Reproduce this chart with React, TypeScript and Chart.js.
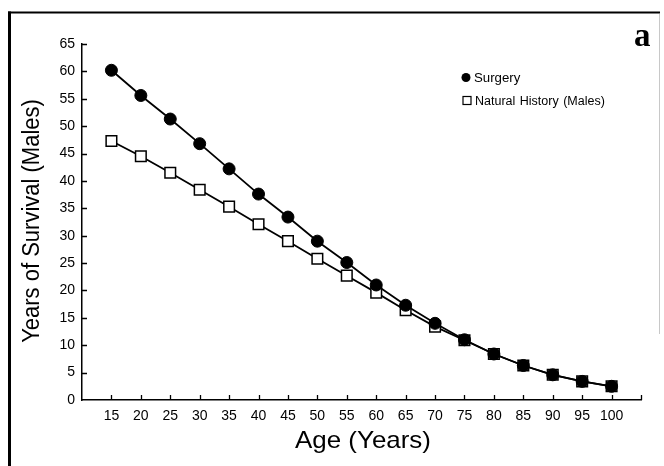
import React, { useEffect, useRef } from 'react';
import { Chart, registerables } from 'chart.js';

Chart.register(...registerables);

const ages = [15, 20, 25, 30, 35, 40, 45, 50, 55, 60, 65, 70, 75, 80, 85, 90, 95, 100];
const surgeryYears = [60.2, 55.6, 51.3, 46.8, 42.2, 37.6, 33.4, 29.0, 25.1, 21.0, 17.3, 14.0, 11.0, 8.4, 6.3, 4.6, 3.4, 2.5];
const naturalHistoryYears = [47.3, 44.5, 41.5, 38.4, 35.3, 32.1, 29.0, 25.8, 22.7, 19.6, 16.4, 13.4, 10.9, 8.4, 6.3, 4.6, 3.4, 2.5];
const xTickLabels = [15, 20, 25, 30, 35, 40, 45, 50, 55, 60, 65, 70, 75, 80, 85, 90, 95, 100];
const yTickLabels = [0, 5, 10, 15, 20, 25, 30, 35, 40, 45, 50, 55, 60, 65];
const seriesNames = ['Surgery', 'Natural History (Males)'];
const xTitle = 'Age (Years)';
const yTitle = 'Years of Survival (Males)';
const panelLabel = 'a';

function drawText(
  ctx: CanvasRenderingContext2D,
  text: string,
  x: number,
  y: number,
  font: string,
  opts: { sx?: number; rot?: number; align?: CanvasTextAlign; baseline?: CanvasTextBaseline; wordSpacing?: string } = {}
) {
  ctx.save();
  ctx.translate(x, y);
  ctx.scale(opts.sx ?? 1, 1);
  if (opts.rot) ctx.rotate(opts.rot);
  ctx.font = font;
  ctx.fillStyle = '#000';
  ctx.textAlign = opts.align ?? 'left';
  ctx.textBaseline = opts.baseline ?? 'alphabetic';
  if (opts.wordSpacing) (ctx as any).wordSpacing = opts.wordSpacing;
  ctx.fillText(text, 0, 0);
  ctx.restore();
}

const decorPlugin = {
  id: 'decor',
  beforeDraw(chart: any) {
    const ctx: CanvasRenderingContext2D = chart.ctx;
    ctx.save();
    ctx.fillStyle = '#fff';
    ctx.fillRect(0, 0, chart.width, chart.height);
    // frame
    ctx.fillStyle = '#000';
    ctx.fillRect(8, 11.5, 652, 2);
    ctx.fillRect(8, 11.5, 3, 466);
    ctx.fillStyle = '#c8c8c8';
    ctx.fillRect(659, 14, 1, 320);
    ctx.restore();
  },
  afterDraw(chart: any) {
    const ctx: CanvasRenderingContext2D = chart.ctx;
    const xs = chart.scales.x;
    const ys = chart.scales.y;
    const area = chart.chartArea;
    ctx.save();
    ctx.strokeStyle = '#000';
    ctx.lineWidth = 1.3;
    ctx.beginPath();
    [...xTickLabels, 105].forEach((v) => {
      const px = Math.round(xs.getPixelForValue(v)) + 0.5;
      ctx.moveTo(px, area.bottom);
      ctx.lineTo(px, area.bottom - 5);
    });
    yTickLabels.forEach((v) => {
      if (v === 0) return;
      const py = Math.round(ys.getPixelForValue(v)) + 0.5;
      ctx.moveTo(area.left, py);
      ctx.lineTo(area.left + 5, py);
    });
    ctx.stroke();
    ctx.restore();

    // axis titles
    drawText(ctx, xTitle, 363, 447.5, '24px "Liberation Sans", Arial, sans-serif', { sx: 1.08, align: 'center' });
    drawText(ctx, yTitle, 39, 221, '22px "Liberation Sans", Arial, sans-serif', { sx: 1.1, rot: -Math.PI / 2, align: 'center' });

    // panel label
    drawText(ctx, panelLabel, 634, 46, 'bold 33px "Liberation Serif", "Times New Roman", serif', {});

    // legend
    ctx.save();
    ctx.fillStyle = '#000';
    ctx.beginPath();
    ctx.arc(466, 77.5, 4.5, 0, Math.PI * 2);
    ctx.fill();
    ctx.strokeStyle = '#000';
    ctx.lineWidth = 1.2;
    ctx.fillStyle = '#fff';
    ctx.fillRect(463, 96.5, 8, 8);
    ctx.strokeRect(463, 96.5, 8, 8);
    ctx.restore();
    drawText(ctx, seriesNames[0], 474, 82, '12.5px "Liberation Sans", Arial, sans-serif', { sx: 1.06 });
    drawText(ctx, seriesNames[1], 475, 105, '12.5px "Liberation Sans", Arial, sans-serif', { sx: 1.0, wordSpacing: '1px' });
  },
};

export default function App() {
  const ref = useRef<HTMLCanvasElement | null>(null);
  useEffect(() => {
    if (!ref.current) return;
    const chart = new Chart(ref.current, {
      type: 'line',
      data: {
        datasets: [
          {
            label: seriesNames[0],
            data: ages.map((a, i) => ({ x: a, y: surgeryYears[i] })),
            borderColor: '#000',
            borderWidth: 1.8,
            pointStyle: 'circle',
            pointRadius: 6,
            pointBackgroundColor: '#000',
            pointBorderColor: '#000',
            pointBorderWidth: 1,
            order: 0,
          },
          {
            label: seriesNames[1],
            data: ages.map((a, i) => ({ x: a, y: naturalHistoryYears[i] })),
            borderColor: '#000',
            borderWidth: 1.8,
            pointStyle: 'rect',
            pointRadius: 7.5,
            pointBackgroundColor: '#fff',
            pointBorderColor: '#000',
            pointBorderWidth: 1.5,
            order: 1,
          },
        ],
      },
      options: {
        animation: false,
        responsive: false,
        devicePixelRatio: 1,
        events: [],
        layout: { padding: { left: 0, top: 44, right: 23, bottom: 0 } },
        plugins: { legend: { display: false }, tooltip: { enabled: false } },
        scales: {
          x: {
            type: 'linear',
            min: 10,
            max: 105,
            afterFit: (s: any) => {
              s.height = 66;
            },
            grid: { display: false, drawTicks: false },
            border: { display: true, color: '#000', width: 1.5 },
            ticks: {
              stepSize: 5,
              autoSkip: false,
              maxRotation: 0,
              padding: 8,
              color: '#000',
              font: { family: '"Liberation Sans", Arial, sans-serif', size: 14 },
              callback: (v: any) => (xTickLabels.includes(Number(v)) ? String(v) : ''),
            },
          },
          y: {
            min: 0,
            max: 65,
            afterFit: (s: any) => {
              s.width = 82;
            },
            grid: { display: false, drawTicks: false },
            border: { display: true, color: '#000', width: 1.5 },
            ticks: {
              stepSize: 5,
              padding: 7,
              color: '#000',
              font: { family: '"Liberation Sans", Arial, sans-serif', size: 14 },
              callback: (v: any) => (yTickLabels.includes(Number(v)) ? String(v) : ''),
            },
          },
        },
      },
      plugins: [decorPlugin],
    });
    return () => chart.destroy();
  }, []);
  return (
    <div style={{ position: 'absolute', left: 0, top: 0, width: 664, height: 466, background: '#fff' }}>
      <canvas ref={ref} width={664} height={466} style={{ display: 'block', width: 664, height: 466 }} />
    </div>
  );
}
